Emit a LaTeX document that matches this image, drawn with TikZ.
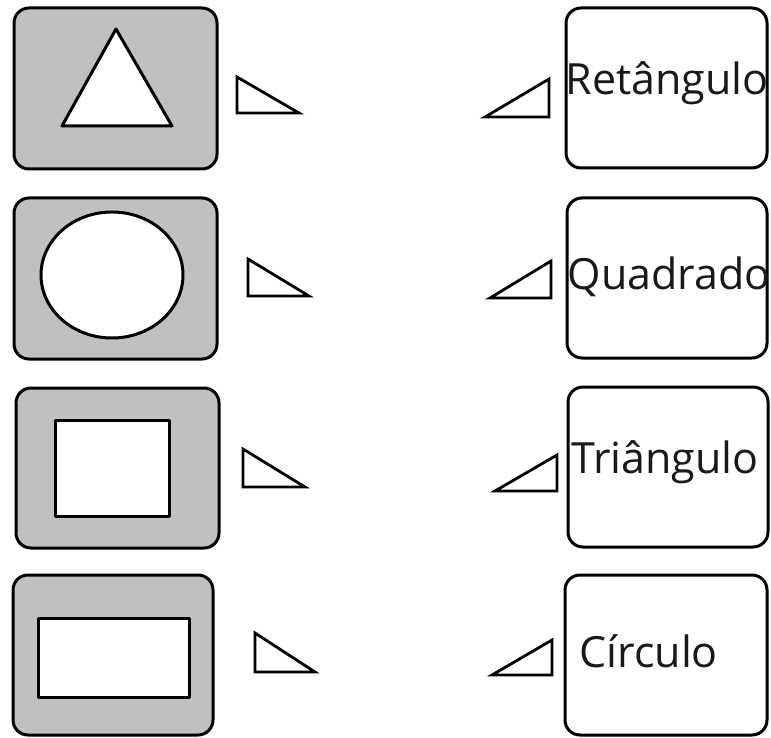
\documentclass[tikz,border=0pt]{standalone}
\usepackage{fontspec}
\setmainfont{Open Sans}
\begin{document}
\begin{tikzpicture}[x=1pt,y=-1pt,
  line width=3pt, line join=round,
  leftbox/.style={draw=black, fill=boxgray, rounded corners=15pt},
  rightbox/.style={draw=black, fill=white, rounded corners=15pt},
  inner/.style={draw=black, fill=white},
  pointer/.style={draw=black, fill=white, line width=2.8pt, line join=miter},
  label/.style={anchor=base west, inner sep=0pt, font=\fontsize{43}{50}\selectfont, text=black!90}
]
\definecolor{boxgray}{RGB}{192,192,192}
\useasboundingbox (0,0) rectangle (771,738);

% left column boxes
\draw[leftbox] (14,8) rectangle (217,169);
\draw[leftbox] (14,198) rectangle (217,359);
\draw[leftbox] (16,388) rectangle (219,548);
\draw[leftbox] (13,575) rectangle (213,735);

% inner shapes
\draw[inner] (116,29) -- (172,126) -- (62,126) -- cycle;
\draw[inner] (112,275) ellipse [x radius=71, y radius=63];
\draw[inner] (55,420) rectangle (169,516);
\draw[inner] (38,618) rectangle (189,697);

% right column boxes
\draw[rightbox] (566,8) rectangle (767,168);
\draw[rightbox] (567,198) rectangle (767,358);
\draw[rightbox] (568,387) rectangle (768,547);
\draw[rightbox] (565,575) rectangle (767,735);

% labels
\node[label] (t1) at (564,95) {Retângulo};
\node[label] (t2) at (566,289) {Quadrado};
\node[label] (t3) at (570,473) {Triângulo};
\node[label] (t4) at (578,667) {Círculo};

% left pointers
\draw[pointer] (237,77) -- (237,113) -- (299,113) -- cycle;
\draw[pointer] (248,259) -- (248,296) -- (309,296) -- cycle;
\draw[pointer] (243,449) -- (243,487) -- (305,487) -- cycle;
\draw[pointer] (255,633) -- (255,672) -- (315,672) -- cycle;

% right pointers
\draw[pointer] (485,117) -- (549,117) -- (549,79) -- cycle;
\draw[pointer] (490,298) -- (551,298) -- (551,261) -- cycle;
\draw[pointer] (495,491) -- (557,491) -- (557,455) -- cycle;
\draw[pointer] (492,675) -- (552,675) -- (552,640) -- cycle;
\end{tikzpicture}
\end{document}
